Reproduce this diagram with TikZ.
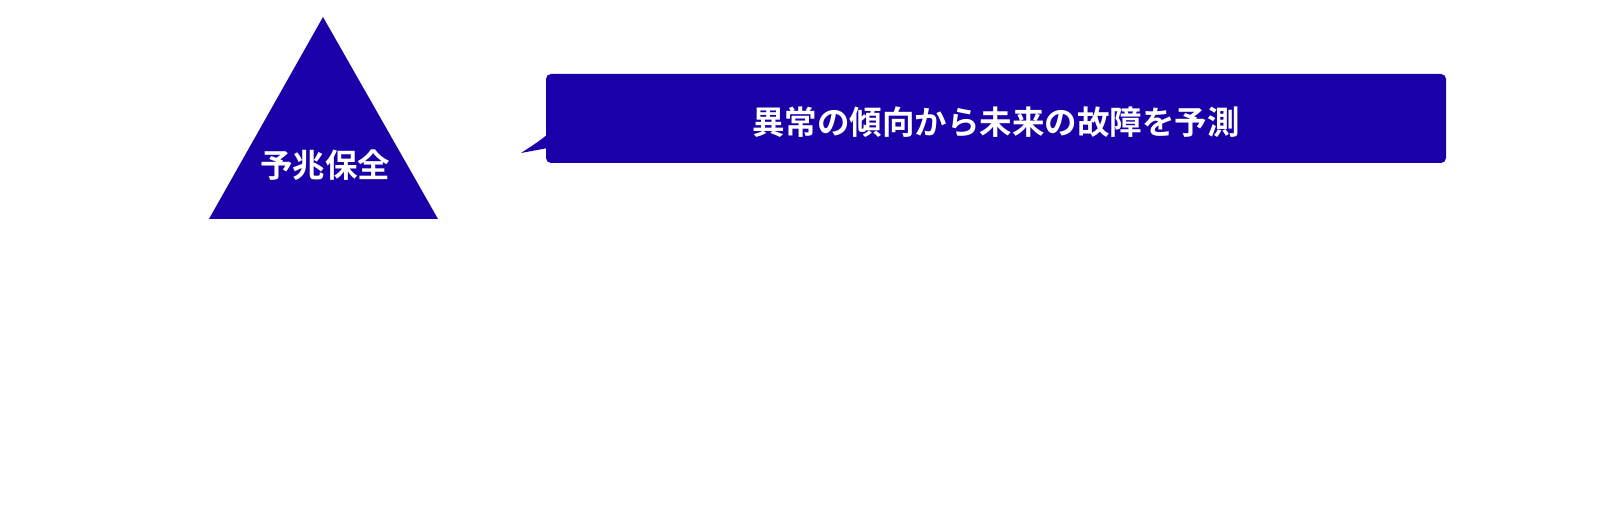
\documentclass[tikz,border=0pt]{standalone}
\usepackage{fontspec}
\setmainfont{Noto Sans CJK JP}[BoldFont={Noto Sans CJK JP Bold}]
\definecolor{navy}{RGB}{26,0,168}
\begin{document}
\begin{tikzpicture}[x=1pt,y=1pt,
  lbl/.style={text=white,font=\fontsize{32.5}{38}\selectfont\bfseries,inner sep=0pt}]
\useasboundingbox (0,0) rectangle (1620,520);
\fill[white] (0,0) rectangle (1620,520);
% triangle
\fill[navy] (323,503) -- (438,301) -- (209,301) -- cycle;
\node[lbl] (tri) at (325,355) {予兆保全};
% callout box
\fill[navy,rounded corners=5pt] (546,446) rectangle (1446,357);
\fill[navy] (548,386) .. controls (538,378) .. (521,367) -- (548,372) -- cycle;
\node[lbl] (msg) at (996,398) {異常の傾向から未来の故障を予測};
\end{tikzpicture}
\end{document}
